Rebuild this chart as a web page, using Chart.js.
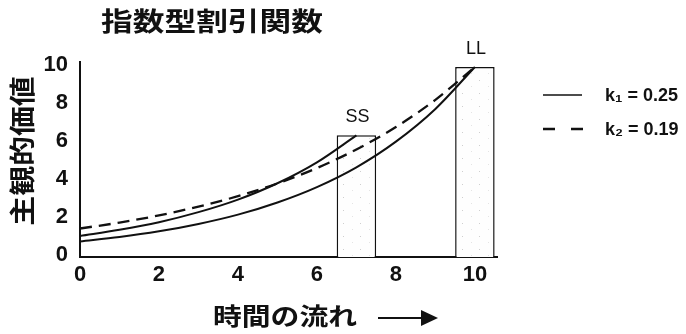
<!DOCTYPE html>
<html lang="ja">
  <head>
    <meta charset="UTF-8" />
    <title>指数型割引関数</title>
    <style>
      * {
        margin: 0;
        padding: 0;
      }
      body {
        background: #fff;
      }
      .chartBox {
        width: 686px;
        height: 334px;
      }
    </style>
  </head>
  <body>
    <div class="chartBox">
      <canvas id="myChart"></canvas>
    </div>

    <script src="https://cdn.jsdelivr.net/npm/chart.js"></script>

    <script>
      // data block
      const chartTitle = "指数型割引関数";
      const yTitle = "主観的価値";
      const xTitle = "時間の流れ";
      const times = [0, 1, 2, 3, 4, 5, 6, 7, 8, 9, 10];
      const ssTimes = [0, 1, 2, 3, 4, 5, 6, 7];
      // k1 = 0.25 curve toward LL
      const llK1 = [0.82, 1.05, 1.35, 1.74, 2.23, 2.87, 3.68, 4.72, 6.07, 7.79, 10];
      // k1 = 0.25 curve toward SS
      const ssK1 = [1.11, 1.43, 1.83, 2.36, 3.02, 3.88, 4.98, 6.4];
      // k2 = 0.19 curve toward LL
      const llK2 = [1.5, 1.81, 2.19, 2.65, 3.2, 3.87, 4.68, 5.66, 6.84, 8.27, 10];
      const rewardTimes = [7, 10];
      const rewardValues = [6.4, 10];
      const rewardLabels = ["SS", "LL"];
      const xTicks = [0, 2, 4, 6, 8, 10];
      const yTicks = [0, 2, 4, 6, 8, 10];
      const legendLabels = ["k\u2081 = 0.25", "k\u2082 = 0.19"];

      const ink = "#111";

      // sparse speckles for the reward bars
      const pat = document.createElement("canvas");
      pat.width = 17;
      pat.height = 13;
      const pctx = pat.getContext("2d");
      pctx.fillStyle = "#fefefe";
      pctx.fillRect(0, 0, 17, 13);
      pctx.fillStyle = "#cfcfcf";
      pctx.fillRect(3, 2, 1, 1);
      pctx.fillStyle = "#e4e4e4";
      pctx.fillRect(12, 8, 1, 1);
      const barFill = pctx.createPattern(pat, "repeat");

      const pts = (xs, ys) => ys.map((y, i) => ({ x: xs[i], y }));

      const data = {
        datasets: [
          {
            type: "bar",
            label: "reward",
            data: pts(rewardTimes, rewardValues),
            backgroundColor: barFill,
            borderColor: ink,
            borderWidth: 1.5,
            barPercentage: 1,
            categoryPercentage: 0.5,
            order: 2
          },
          {
            label: legendLabels[0],
            data: pts(times, llK1),
            borderColor: ink,
            borderWidth: 2,
            order: 1
          },
          {
            label: "ss",
            data: pts(ssTimes, ssK1),
            borderColor: ink,
            borderWidth: 2,
            order: 1
          },
          {
            label: legendLabels[1],
            data: pts(times, llK2),
            borderColor: ink,
            borderWidth: 2.3,
            borderDash: [12, 7],
            order: 1
          }
        ]
      };

      // titles, bar labels, legend
      const decor = {
        id: "decor",
        afterDraw(chart) {
          const c = chart.ctx;
          c.save();
          c.fillStyle = ink;
          c.strokeStyle = ink;

          // chart title
          c.save();
          c.font = 'bold 26px "Noto Sans CJK JP"';
          c.textAlign = "center";
          c.textBaseline = "middle";
          c.translate(212, 21);
          c.scale(1.22, 1);
          c.fillText(chartTitle, 0, 0);
          c.restore();

          // y title
          c.save();
          c.font = 'bold 26px "Noto Sans CJK JP"';
          c.textAlign = "center";
          c.textBaseline = "middle";
          c.translate(22, 151);
          c.rotate(-Math.PI / 2);
          c.scale(1.15, 1);
          c.fillText(yTitle, 0, 0);
          c.restore();

          // x title + arrow
          c.save();
          c.font = 'bold 24px "Noto Sans CJK JP"';
          c.textAlign = "left";
          c.textBaseline = "middle";
          c.translate(213, 316);
          c.scale(1.2, 1);
          c.fillText(xTitle, 0, 0);
          c.restore();
          c.lineWidth = 2;
          c.beginPath();
          c.moveTo(378, 318);
          c.lineTo(426, 318);
          c.stroke();
          c.beginPath();
          c.moveTo(421, 310);
          c.lineTo(438, 318);
          c.lineTo(421, 326);
          c.closePath();
          c.fill();

          // bar labels
          const meta = chart.getDatasetMeta(0);
          c.font = '18px "Liberation Sans"';
          c.textAlign = "center";
          c.textBaseline = "middle";
          meta.data.forEach((bar, i) => {
            c.fillText(rewardLabels[i], bar.x + 1, bar.y - 18);
          });

          // legend
          c.lineWidth = 1.5;
          c.beginPath();
          c.moveTo(543, 95);
          c.lineTo(582, 95);
          c.stroke();
          c.lineWidth = 2.3;
          c.beginPath();
          c.moveTo(543, 129);
          c.lineTo(555, 129);
          c.moveTo(571, 129);
          c.lineTo(583, 129);
          c.stroke();
          c.font = 'bold 18px "Liberation Sans"';
          c.textAlign = "left";
          legendLabels.forEach((t, i) => {
            c.fillText(t, 605, 96 + i * 34);
          });
          c.restore();
        }
      };

      const tickFont = { family: "Liberation Sans", size: 22, weight: "bold" };

      // config block
      const config = {
        type: "line",
        data,
        options: {
          responsive: true,
          maintainAspectRatio: false,
          animation: false,
          layout: {
            padding: { top: 62, right: 189, left: 0, bottom: 0 }
          },
          elements: {
            point: { radius: 0 },
            line: { cubicInterpolationMode: "monotone", fill: false }
          },
          plugins: {
            legend: { display: false },
            tooltip: { enabled: false },
            title: { display: false }
          },
          scales: {
            x: {
              type: "linear",
              min: 0,
              max: 10.56,
              offset: false,
              afterBuildTicks: (s) => {
                s.ticks = xTicks.map((v) => ({ value: v }));
              },
              afterFit: (s) => {
                s.height = 77;
              },
              grid: { display: false, drawTicks: false },
              border: { display: true, color: ink, width: 2 },
              ticks: {
                color: ink,
                padding: 5,
                maxRotation: 0,
                font: tickFont
              }
            },
            y: {
              min: 0,
              max: 10.26,
              afterBuildTicks: (s) => {
                s.ticks = yTicks.map((v) => ({ value: v }));
              },
              afterFit: (s) => {
                s.width = 80;
              },
              grid: { display: false, drawTicks: false },
              border: { display: true, color: ink, width: 2 },
              ticks: {
                color: ink,
                padding: 12,
                labelOffset: -2,
                font: tickFont
              }
            }
          }
        },
        plugins: [decor]
      };

      // init render block
      const ctx = document.getElementById("myChart");
      const myChart = new Chart(ctx, config);
    </script>
  </body>
</html>
